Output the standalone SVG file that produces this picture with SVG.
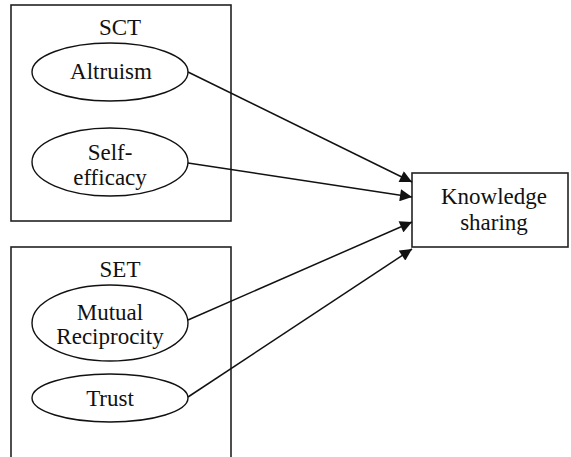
<svg xmlns="http://www.w3.org/2000/svg" width="571" height="457" viewBox="0 0 571 457">
<style>
.box{fill:#fff;stroke:#222;stroke-width:1.6}
.ell{fill:#fff;stroke:#111;stroke-width:1.4}
.t{font-family:"Liberation Serif","Times New Roman",serif;font-size:23px;fill:#111;text-anchor:middle}
.c{stroke:#111;stroke-width:1.5;fill:none;marker-end:url(#ah)}
</style>
<defs>
<marker id="ah" viewBox="0 0 12 12" refX="12" refY="6" markerWidth="13" markerHeight="12" markerUnits="userSpaceOnUse" orient="auto">
<path d="M0,0 L12,6 L0,12 z" fill="#111"/>
</marker>
</defs>
<rect width="571" height="457" fill="#fff"/>
<g id="SCT">
<rect class="box" x="11" y="5" width="220" height="216"/>
<text class="t" x="120" y="35">SCT</text>
</g>
<g id="SET">
<rect class="box" x="11" y="247" width="220" height="220"/>
<text class="t" x="120" y="277">SET</text>
</g>
<g id="Altruism">
<ellipse class="ell" cx="110" cy="72" rx="78" ry="29"/>
<text class="t" x="111" y="79">Altruism</text>
</g>
<g id="SelfEfficacy">
<ellipse class="ell" cx="110" cy="162" rx="78" ry="34"/>
<text class="t" x="110" y="160">Self-</text>
<text class="t" x="110" y="185">efficacy</text>
</g>
<g id="MutualReciprocity">
<ellipse class="ell" cx="110" cy="323" rx="78" ry="38"/>
<text class="t" x="110" y="320">Mutual</text>
<text class="t" x="110" y="344">Reciprocity</text>
</g>
<g id="Trust">
<ellipse class="ell" cx="110" cy="398" rx="78" ry="24"/>
<text class="t" x="110" y="406">Trust</text>
</g>
<g id="KnowledgeSharing">
<rect class="box" x="412" y="173" width="156" height="74"/>
<text class="t" x="494" y="204">Knowledge</text>
<text class="t" x="494" y="230">sharing</text>
</g>
<g id="connectors">
<line class="c" x1="188" y1="72" x2="412" y2="182"/>
<line class="c" x1="188" y1="163" x2="412" y2="197"/>
<line class="c" x1="188" y1="320" x2="412" y2="222"/>
<line class="c" x1="188" y1="397" x2="412" y2="249"/>
</g>
</svg>
